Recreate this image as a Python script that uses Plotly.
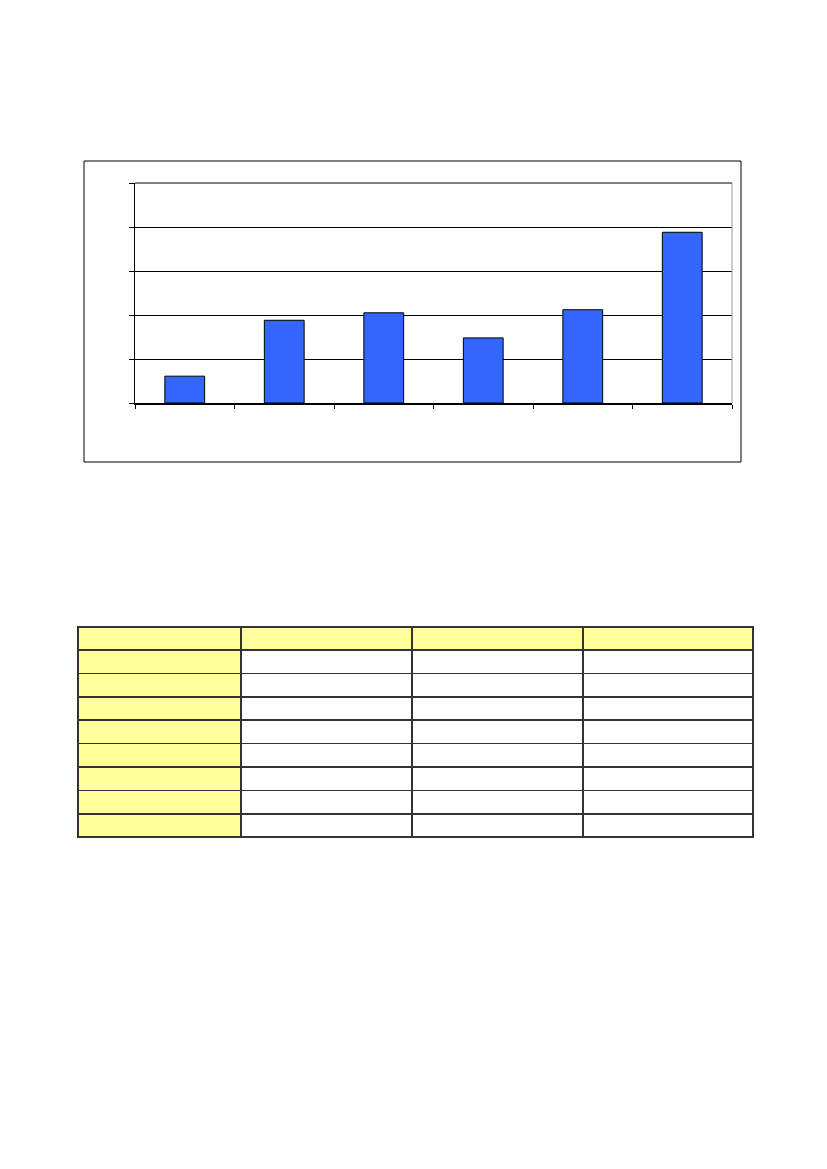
import plotly.graph_objects as go

# Datos del gráfico (sin etiquetas visibles en la imagen)
categorias = ["c1", "c2", "c3", "c4", "c5", "c6"]
valores = [0.61, 1.88, 2.05, 1.48, 2.12, 3.88]
y_ticks = [0, 1, 2, 3, 4, 5]

# Tabla vacía: cabecera + 8 filas, 4 columnas
cabecera = ["", "", "", ""]
n_filas = 8
col1 = [""] * n_filas
col2 = [""] * n_filas
col3 = [""] * n_filas
col4 = [""] * n_filas

W, H = 827, 1169
OFF = 8  # margen del body del navegador
AMARILLO = "#FFFF99"


def px(x):
    return (x - OFF) / W


def py(y):
    return 1 - (y - OFF) / H


fig = go.Figure()

fig.add_trace(go.Bar(
    x=categorias,
    y=valores,
    width=0.4,
    marker=dict(color="#3366FF", line=dict(color="black", width=1)),
    showlegend=False,
    hoverinfo="skip"
))

fig.update_layout(
    xaxis=dict(
        domain=[px(135), px(732)],
        showticklabels=False,
        showgrid=False,
        zeroline=False,
        showline=True,
        linecolor="black",
        linewidth=2,
        ticks="outside",
        ticklen=4,
        tickcolor="black",
        tickson="boundaries"
    ),
    yaxis=dict(
        domain=[py(403), py(183)],
        range=[0, 5],
        tickvals=y_ticks,
        showticklabels=False,
        showgrid=True,
        gridcolor="black",
        gridwidth=1,
        zeroline=False,
        showline=True,
        linecolor="black",
        linewidth=1,
        ticks="outside",
        ticklen=5,
        tickcolor="black"
    ),
    plot_bgcolor="white",
    paper_bgcolor="white",
    width=W,
    height=H,
    margin=dict(l=0, r=0, t=0, b=0),
    bargap=0.6
)

# borde gris del área de trazado (arriba y a la derecha)
fig.add_shape(type="line", xref="paper", yref="paper",
              x0=px(732), x1=px(732), y0=py(403), y1=py(183),
              line=dict(color="#999999", width=1))
fig.add_shape(type="line", xref="paper", yref="paper",
              x0=px(135), x1=px(732), y0=py(183), y1=py(183),
              line=dict(color="#555555", width=1.5))

# marco exterior del gráfico
fig.add_shape(type="rect", xref="paper", yref="paper",
              x0=px(84), x1=px(741), y0=py(462), y1=py(161),
              line=dict(color="black", width=1), fillcolor="rgba(0,0,0,0)")

# Tabla
fig.add_trace(go.Table(
    domain=dict(x=[px(78), px(753)], y=[py(840), py(627)]),
    columnwidth=[163, 171, 171, 170],
    header=dict(
        values=cabecera,
        fill_color=AMARILLO,
        line=dict(color="#333333", width=1.5),
        height=23
    ),
    cells=dict(
        values=[col1, col2, col3, col4],
        fill_color=[[AMARILLO] * n_filas, ["white"] * n_filas,
                    ["white"] * n_filas, ["white"] * n_filas],
        line=dict(color="#333333", width=1.5),
        height=23.4
    )
))

fig.write_html("out.html")
